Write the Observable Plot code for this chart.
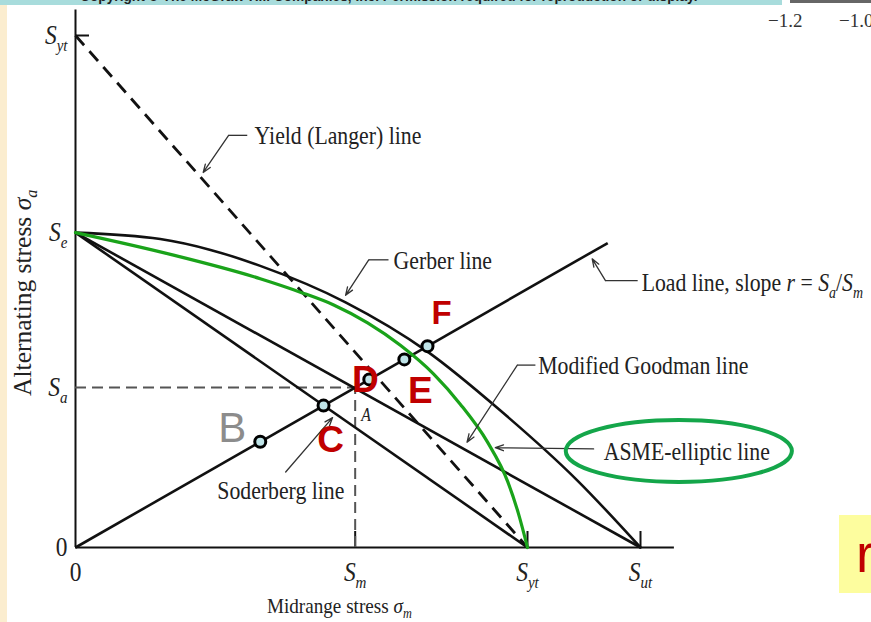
<!DOCTYPE html>
<html>
<head>
<meta charset="utf-8">
<script src="https://cdn.jsdelivr.net/npm/d3@7"></script>
<script src="https://cdn.jsdelivr.net/npm/@observablehq/plot@0.6"></script>
<style>
  body { margin: 0; background: #fff; }
  #page { position: relative; width: 871px; height: 622px; overflow: hidden; background: #fff; }
  #chart { position: absolute; left: 0; top: 0; }
  .deco { position: absolute; white-space: nowrap; }
</style>
</head>
<body>
<div id="page">
  <div id="chart"></div>
  <div class="deco" style="left:0;top:0;width:7px;height:622px;background:#fbedcf"></div>
  <div class="deco" style="left:0;top:0;width:782px;height:5px;background:#a8dcdc"></div>
  <div class="deco" style="left:80px;top:-12px;font:bold 14px 'Liberation Sans',sans-serif;color:#222;transform:scaleX(0.98);transform-origin:left">Copyright © The McGraw-Hill Companies, Inc. Permission required for reproduction or display.</div>
  <div class="deco" style="left:790px;top:0;width:81px;height:3px;background:#666"></div>
  <div class="deco" style="left:768px;top:10px;font:19px 'Liberation Serif',serif;color:#333">−1.2</div>
  <div class="deco" style="left:839px;top:10px;font:19px 'Liberation Serif',serif;color:#333">−1.0</div>
  <div class="deco" style="left:839px;top:515px;width:32px;height:78px;background:#fdfd9e"></div>
  <div class="deco" style="left:856px;top:526px;font:54px/54px 'Liberation Sans',sans-serif;color:#c00000">r</div>
</div>
<script>
// Fatigue diagram: alternating stress σa against midrange stress σm,
// with the Soderberg, modified Goodman, Gerber, ASME-elliptic and yield (Langer) lines.

// Strengths (same stress units on both axes)
const Sut = 100, Syt = 80, Se = 49.2, Sm = 49.5, Sa = 25;

const xTickValues = [0, Sm, Syt, Sut];
const xTickLabels = ["0", "*S*_m_", "*S*_yt_", "*S*_ut_"];
const yTickValues = [0, Sa, Se, Syt];
const yTickLabels = ["0", "*S*_a_", "*S*_e_", "*S*_yt_"];

// Gerber curve, Se -> Sut
const gerberSm = [0, 15.0, 23.9, 32.7, 47.8, 62.3, 75.2, 88.8, 100];
const gerberSa = [49.2, 48.2, 46.5, 44.0, 38.3, 30.6, 21.4, 10.5, 0];

// ASME-elliptic curve (highlighted), Se -> Syt
const asmeSm = [0, 16.8, 32.7, 39.8, 45.7, 51.7, 57.5, 63.4, 68.1, 72.9, 76.5, 78.4, 80];
const asmeSa = [49.2, 45.8, 42.0, 39.9, 37.9, 35.1, 31.6, 27.1, 22.4, 16.5, 10.3, 5.3, 0];

// Load line through the origin with slope r = Sa/Sm
const loadSlope = Sa / Sm;
const loadEndSm = 94.2;

// Failure points along the load line
const pointNames = ["B", "C", "D", "E", "F"];
const pointSm = [32.7, 43.9, 52.0, 58.2, 62.3];

// Axis extents
const xAxisEnd = 106, yAxisEnd = 84;

// Callout labels (anchor, elbow of the leader, end of its shelf, arrow tip)
const callouts = [
  {text: "Yield (Langer) line", at: [31.7, 64.3], elbow: [27.1, 64.4], shelf: [30.4, 64.4], tip: [22.6, 58.6]},
  {text: "Gerber line", at: [56.3, 44.8], elbow: [51.9, 44.95], shelf: [55.4, 44.95], tip: [47.8, 39.4]},
  {text: "Load line, slope *r* = *S*_a_/*S*_m_", at: [100.2, 41.3], elbow: [93.8, 41.7], shelf: [99.5, 41.7], tip: [91.45, 45.1]},
  {text: "Modified Goodman line", at: [81.9, 28.3], elbow: [78.2, 28.5], shelf: [81.4, 28.5], tip: [69.3, 16.45]},
  {text: "ASME-elliptic line", at: [93.5, 15.0], elbow: [91.7, 15.4], shelf: null, tip: [74.3, 15.6]},
  {text: "Soderberg line", at: [25.1, 8.9], elbow: [37.2, 11.8], shelf: null, tip: [45.5, 20.3]}
];

// Letter styling and offsets (pixels) from each point
const letterStyle = {
  B: {fill: "#8c8c8c", fontWeight: "normal", fontSize: 42, dx: -28, dy: -13},
  C: {fill: "#c00000", fontWeight: "bold", fontSize: 37, dx: 7, dy: 35},
  D: {fill: "#c00000", fontWeight: "bold", fontSize: 37, dx: -4, dy: 1},
  E: {fill: "#c00000", fontWeight: "bold", fontSize: 37, dx: 16, dy: 32},
  F: {fill: "#c00000", fontWeight: "bold", fontSize: 33, dx: 14, dy: -33}
};

const gerber = gerberSm.map((s, i) => ({sm: s, sa: gerberSa[i]}));
const asme = asmeSm.map((s, i) => ({sm: s, sa: asmeSa[i]}));
const points = pointSm.map((s, i) => ({name: pointNames[i], sm: s, sa: loadSlope * s}));
const straightLines = [
  {x1: 0, y1: Se, x2: Syt, y2: 0},   // Soderberg
  {x1: 0, y1: Se, x2: Sut, y2: 0},   // modified Goodman
  {x1: 0, y1: 0, x2: loadEndSm, y2: loadSlope * loadEndSm} // load line
];
const xLabel = new Map(xTickValues.map((v, i) => [v, xTickLabels[i]]));
const yLabel = new Map(yTickValues.map((v, i) => [v, yTickLabels[i]]));

const ink = "#222";
const leader = {stroke: "#333", strokeWidth: 1.3};

const svg = Plot.plot({
  width: 871,
  height: 622,
  marginLeft: 75,
  marginBottom: 75,
  marginTop: 9.4,
  marginRight: 174.5,
  style: {fontFamily: "'Liberation Serif', 'Times New Roman', serif", fontSize: "27px", color: ink, background: "transparent"},
  x: {domain: [0, 110], ticks: xTickValues, tickFormat: d => xLabel.get(d), tickSize: 0, tickPadding: 14, label: null},
  y: {domain: [0, 84], ticks: yTickValues, tickFormat: d => yLabel.get(d), tickSize: 0, tickPadding: 8, label: null},
  marks: [
    // axes
    Plot.ruleX([0], {y1: 0, y2: yAxisEnd, stroke: "#111", strokeWidth: 2}),
    Plot.ruleY([0], {x1: 0, x2: xAxisEnd, stroke: "#111", strokeWidth: 2}),
    Plot.ruleX([Sm, Syt, Sut], {y1: 0, y2: 0, insetTop: -16, stroke: "#111", strokeWidth: 2}),
    Plot.ruleY([Syt], {x1: 0, x2: 0, insetRight: -14, stroke: "#111", strokeWidth: 2}),
    // Sa / Sm construction lines
    Plot.ruleY([Sa], {x1: 0, x2: Sm, stroke: "#555", strokeWidth: 2, strokeDasharray: "11,6"}),
    Plot.ruleX([Sm], {y1: 0, y2: Sa, stroke: "#555", strokeWidth: 2, strokeDasharray: "11,6"}),
    Plot.text(["*A*"], {x: Sm, y: Sa, dx: 6, dy: 28, textAnchor: "start", fontSize: 18, fill: ink}),
    // yield (Langer) line
    Plot.link([{x1: 0, y1: Syt, x2: Syt, y2: 0}], {x1: "x1", y1: "y1", x2: "x2", y2: "y2", stroke: "#111", strokeWidth: 2.8, strokeDasharray: "13,8"}),
    // Soderberg, modified Goodman and load lines
    Plot.link(straightLines, {x1: "x1", y1: "y1", x2: "x2", y2: "y2", stroke: "#111", strokeWidth: 2.6}),
    // Gerber line
    Plot.line(gerber, {x: "sm", y: "sa", curve: "monotone-x", stroke: "#111", strokeWidth: 2.6}),
    // ASME-elliptic line
    Plot.line(asme, {x: "sm", y: "sa", curve: "monotone-x", stroke: "#1aa31a", strokeWidth: 3.2}),
    // callout leaders
    Plot.link(callouts.filter(d => d.shelf), {x1: d => d.elbow[0], y1: d => d.elbow[1], x2: d => d.shelf[0], y2: d => d.shelf[1], ...leader}),
    Plot.arrow(callouts, {x1: d => d.elbow[0], y1: d => d.elbow[1], x2: d => d.tip[0], y2: d => d.tip[1], headLength: 10, headAngle: 40, ...leader}),
    Plot.text(callouts, {x: d => d.at[0], y: d => d.at[1], text: "text", textAnchor: "start", fontSize: 25, fill: ink}),
    // axis titles
    Plot.text(["Alternating stress *σ*_a_"], {x: 0, y: 39.8, dx: -53, rotate: -90, fontSize: 25.5, fill: ink}),
    Plot.text(["Midrange stress *σ*_m_"], {x: 46.7, y: 0, dy: 58, fontSize: 22, fill: ink}),
    // points on the load line
    Plot.dot(points, {x: "sm", y: "sa", r: 5.5, fill: "#bfe4e8", stroke: "#000", strokeWidth: 3}),
    ...points.map(p => {
      const s = letterStyle[p.name];
      return Plot.text([p], {x: "sm", y: "sa", text: "name", fontFamily: "'Liberation Sans', Arial, sans-serif", ...s});
    })
  ]
});

document.getElementById("chart").append(svg);

// Typeset italic variables (*x*) and subscripts (_x_) as tspans
const SVGNS = "http://www.w3.org/2000/svg";
function typeset(text) {
  const raw = text.textContent;
  if (!/[*_]/.test(raw)) return;
  const fs = parseFloat(getComputedStyle(text).fontSize);
  const sub = fs * 0.64, shift = fs * 0.26;
  text.textContent = "";
  let low = false;
  for (const part of raw.split(/(\*[^*]+\*|_[^_]+_)/)) {
    if (!part) continue;
    const t = document.createElementNS(SVGNS, "tspan");
    if (part[0] === "_") {
      t.textContent = part.slice(1, -1);
      t.setAttribute("font-style", "italic");
      t.setAttribute("font-size", sub);
      if (!low) t.setAttribute("dy", shift);
      low = true;
    } else {
      const italic = part[0] === "*";
      t.textContent = italic ? part.slice(1, -1) : part;
      if (italic) t.setAttribute("font-style", "italic");
      if (low) t.setAttribute("dy", -shift);
      low = false;
    }
    text.appendChild(t);
  }
}
svg.querySelectorAll("text").forEach(typeset);

// The horizontal serif figure lettering is set slightly condensed
svg.querySelectorAll("text").forEach(t => {
  if (t.textContent.startsWith("Alternating")) return;
  const fam = t.closest("[font-family]");
  if (fam && /Sans/.test(fam.getAttribute("font-family"))) return;
  const L = t.getComputedTextLength();
  t.setAttribute("textLength", (L * 0.87).toFixed(1));
  t.setAttribute("lengthAdjust", "spacingAndGlyphs");
});

// Ring around the ASME-elliptic label
const asmeText = [...svg.querySelectorAll("text")].find(t => t.textContent === "ASME-elliptic line");
if (asmeText) {
  const r = asmeText.getBoundingClientRect();
  const s = svg.getBoundingClientRect();
  const bx = r.left - s.left, by = r.top - s.top;
  const ring = document.createElementNS(SVGNS, "ellipse");
  ring.setAttribute("cx", bx + r.width / 2 - 8);
  ring.setAttribute("cy", by + r.height / 2);
  ring.setAttribute("rx", r.width / 2 + 30);
  ring.setAttribute("ry", 31);
  ring.setAttribute("fill", "none");
  ring.setAttribute("stroke", "#14a64a");
  ring.setAttribute("stroke-width", 4);
  svg.appendChild(ring);
}
</script>
</body>
</html>
